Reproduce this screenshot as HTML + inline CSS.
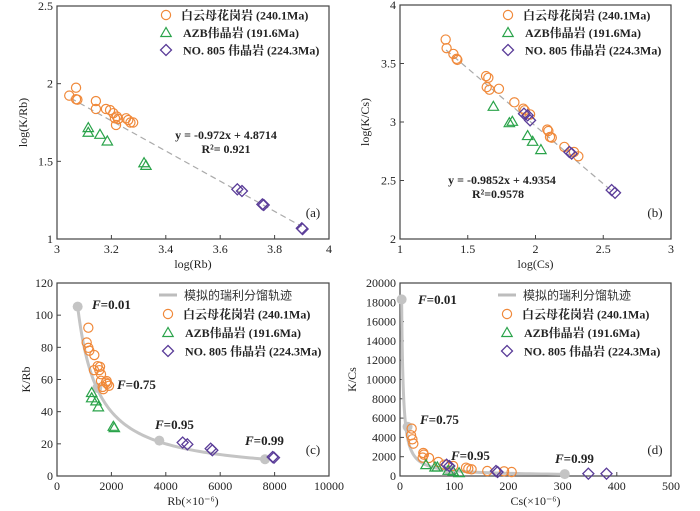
<!DOCTYPE html>
<html><head><meta charset="utf-8">
<style>
html,body{margin:0;padding:0;background:#fff;}
svg{display:block;}
text{font-family:"Liberation Serif","Noto Serif CJK SC",serif;fill:#222;}
.tk{font-size:12px;}
.lg{font-size:12px;font-weight:bold;}
.eq{font-size:12px;font-weight:bold;}
.fl{font-size:13px;font-weight:bold;}
</style></head>
<body>
<svg id="chart" width="700" height="511" viewBox="0 0 700 511" xmlns="http://www.w3.org/2000/svg"></svg>
<script>
// ---------- Panel (a) data: log(Rb) vs log(K/Rb)
const aOrangeX=[3.045,3.07,3.07,3.075,3.143,3.143,3.18,3.195,3.207,3.213,3.22,3.217,3.225,3.254,3.262,3.27,3.28];
const aOrangeY=[1.923,1.974,1.90,1.897,1.888,1.837,1.837,1.83,1.81,1.777,1.788,1.734,1.773,1.777,1.766,1.75,1.75];
const aGreenX=[3.115,3.115,3.158,3.185,3.32,3.327];
const aGreenY=[1.717,1.687,1.674,1.631,1.491,1.474];
const aPurpleX=[3.663,3.68,3.755,3.76,3.9,3.903];
const aPurpleY=[1.32,1.309,1.223,1.219,1.069,1.064];
const aFit=[-0.972,4.8714];
const aTicksX=[3,3.2,3.4,3.6,3.8,4];
const aTickLabelsX=["3","3.2","3.4","3.6","3.8","4"];
const aTicksY=[1,1.5,2,2.5];
const aTickLabelsY=["1","1.5","2","2.5"];
// ---------- Panel (b) data: log(Cs) vs log(K/Cs)
const bOrangeX=[1.337,1.344,1.394,1.418,1.423,1.635,1.652,1.64,1.66,1.73,1.844,1.91,1.92,1.96,2.087,2.095,2.107,2.12,2.213,2.284,2.316];
const bOrangeY=[3.705,3.631,3.582,3.54,3.531,3.392,3.378,3.298,3.276,3.284,3.168,3.114,3.1,3.065,2.935,2.923,2.872,2.866,2.787,2.744,2.707];
const bGreenX=[1.689,1.807,1.829,1.942,1.979,2.04];
const bGreenY=[3.134,2.994,3.006,2.884,2.835,2.764];
const bPurpleX=[1.915,1.942,1.96,2.25,2.267,2.562,2.587];
const bPurpleY=[3.071,3.057,3.014,2.744,2.73,2.418,2.395];
const bFit=[-0.9852,4.9354];
const bTicksX=[1,1.5,2,2.5,3];
const bTickLabelsX=["1","1.5","2","2.5","3"];
const bTicksY=[2,2.5,3,3.5,4];
const bTickLabelsY=["2","2.5","3","3.5","4"];
// ---------- Panel (c) data: Rb vs K/Rb
const cOrangeX=[1152,1091,1152,1189,1372,1360,1495,1581,1556,1618,1618,1801,1826,1912,1679,1703,1850];
const cOrangeY=[92.2,83,79.7,77.9,75.2,65.8,68.3,67.9,65.8,63.3,59.2,58.1,59,56.1,55.4,54,57.3];
const cGreenX=[1275,1275,1434,1520,2071,2108];
const cGreenY=[51.9,48.6,46.7,43,30.9,30.1];
const cPurpleX=[4620,4792,5650,5711,7929,7978];
const cPurpleY=[20.8,19.7,17,16,11.8,11.4];
const cFLabels=["0.01","0.75","0.95","0.99"];
const cFX=[760,1480,3762,7647];
const cFY=[105.3,54.8,22,10.4];
const cModelK=[80000]; // Rayleigh trajectory: K/Rb = K / Rb
const cCurveRange=[760,7647];
const cTicksX=[0,2000,4000,6000,8000,10000];
const cTickLabelsX=["0","2000","4000","6000","8000","10000"];
const cTicksY=[0,20,40,60,80,100,120];
const cTickLabelsY=["0","20","40","60","80","100","120"];
// ---------- Panel (d) data: Cs vs K/Cs
const dOrangeX=[21.5,20.3,22.8,24.6,43,44,53.5,41.8,70.7,81.8,121.8,126,132,161,192,206,98];
const dOrangeY=[4913,4221,3806,3356,2388,2214,1869,1903,1453,1176,865,761,692,519,484,415,1038];
const dGreenX=[48,64.6,68.9,89,98,109];
const dGreenY=[1176,934,934,588,484,346];
const dPurpleX=[86,91,177,180,347.5,381];
const dPurpleY=[1176,1038,519,415,242,242];
const dFLabels=["0.01","0.75","0.95","0.99"];
const dFX=[3,14,90,304];
const dFY=[18300,5100,610,200];
const dModelK=[55000];
const dCurveRange=[3,304];
const dTicksX=[0,100,200,300,400,500];
const dTickLabelsX=["0","100","200","300","400","500"];
const dTicksY=[0,2000,4000,6000,8000,10000,12000,14000,16000,18000,20000];
const dTickLabelsY=["0","2000","4000","6000","8000","10000","12000","14000","16000","18000","20000"];

const NS="http://www.w3.org/2000/svg";
const svg=document.getElementById('chart');
const OR="#f0893a",GR="#2aa34a",PU="#5a3c98";
function mk(tag,attrs,parent){const e=document.createElementNS(NS,tag);for(const k in attrs)e.setAttribute(k,attrs[k]);(parent||svg).appendChild(e);return e;}
function txt(s,attrs,parent){const e=mk('text',attrs,parent);e.textContent=s;return e;}

function marker(g,type,x,y,color){
  let e;
  if(type==='c'){e=mk('circle',{cx:x,cy:y,r:4.6,fill:'none',stroke:color,'stroke-width':1.2},g);}
  else if(type==='t'){e=mk('polygon',{points:`${x},${y-5} ${x-5.2},${y+4} ${x+5.2},${y+4}`,fill:'none',stroke:color,'stroke-width':1.2},g);}
  else {e=mk('polygon',{points:`${x},${y-5.5} ${x+5.5},${y} ${x},${y+5.5} ${x-5.5},${y}`,fill:'none',stroke:color,'stroke-width':1.3},g);}
  return e;
}

function panel(id,box,xd,yd,tx,txl,ty,tyl,xtitle,ytitle,ylabX,tag){
  const g=mk('g',{});
  
  
  const sx=v=>box.l+(v-xd[0])/(xd[1]-xd[0])*(box.r-box.l);
  const sy=v=>box.b-(v-yd[0])/(yd[1]-yd[0])*(box.b-box.t);
  const fr=mk('rect',{x:box.l,y:box.t,width:box.r-box.l,height:box.b-box.t,fill:'none',stroke:'#444','stroke-width':1.2},g);
  
  
  tx.forEach((v,i)=>{
    const X=sx(v);
    mk('line',{x1:X,y1:box.b,x2:X,y2:box.b-4,stroke:'#444','stroke-width':1},g);
    const t=txt(txl[i],{x:X,y:box.b+14,'text-anchor':'middle',class:'tk'},g);
    
    
  });
  ty.forEach((v,i)=>{
    const Y=sy(v);
    mk('line',{x1:box.l,y1:Y,x2:box.l+4,y2:Y,stroke:'#444','stroke-width':1},g);
    const t=txt(tyl[i],{x:box.l-4,y:Y+4,'text-anchor':'end',class:'tk'},g);
    
    
  });
  const xt=txt(xtitle,{x:(box.l+box.r)/2,y:box.b+29,'text-anchor':'middle',class:'tk'},g);
  
  
  const cy=(box.t+box.b)/2;
  const yt=txt(ytitle,{x:ylabX,y:cy,'text-anchor':'middle',class:'tk',transform:`rotate(-90 ${ylabX} ${cy})`},g);
  
  
  const pt=txt(tag,{x:box.r-16,y:box.b-22,'text-anchor':'middle',class:'tk',style:'font-size:13px'},g);
  
  
  return {g,sx,sy};
}

function series(P,xs,ys,type,color,name){
  const g=mk('g',{},P.g);
  
  
  xs.forEach((x,i)=>{
    const m=marker(g,type,P.sx(x),P.sy(ys[i]),color);
    
    
  });
}

function legend(P,x,y0,withLine){
  const g=mk('g',{},P.g);
  
  
  let y=y0;
  if(withLine){
    const l=mk('line',{x1:x-9,y1:y,x2:x+9,y2:y,stroke:'#bdbdbd','stroke-width':3},g);
    
    
    const t=txt('模拟的瑞利分馏轨迹',{x:x+16,y:y+4.5,class:'lg',style:'font-weight:normal;font-family:"Noto Sans CJK SC",sans-serif;fill:#333'},g);
    
    
    y+=19;
  }
  const items=[['c',OR,'白云母花岗岩 (240.1Ma)'],['t',GR,'AZB伟晶岩  (191.6Ma)'],['d',PU,'NO. 805 伟晶岩 (224.3Ma)']];
  items.forEach((it,i)=>{
    marker(g,it[0],x,y,it[1]);
    const t=txt(it[2],{x:x+15+(i>0?2:0),y:y+4.5,class:'lg','xml:space':'preserve'},g);
    
    
    y+= (withLine?18.5:17.5);
  });
}

function fitLine(P,fit,x0,x1,name){
  const l=mk('line',{x1:P.sx(x0),y1:P.sy(fit[0]*x0+fit[1]),x2:P.sx(x1),y2:P.sy(fit[0]*x1+fit[1]),stroke:'#aaa','stroke-width':1.2,'stroke-dasharray':'6,4'},P.g);
  
  
}

function rayleigh(P,K,range,fx,fy,fl,labelPos,name){
  let d='';
  const n=120;
  for(let i=0;i<=n;i++){
    const x=range[0]*Math.pow(range[1]/range[0],i/n);
    d+=(i?'L':'M')+P.sx(x).toFixed(2)+','+P.sy(K[0]/x).toFixed(2);
  }
  const p=mk('path',{d,fill:'none',stroke:'#c4c4c4','stroke-width':3},P.g);
  
  
  fx.forEach((x,i)=>{
    const c=mk('circle',{cx:P.sx(x),cy:P.sy(fy[i]),r:5,fill:'#c4c4c4'},P.g);
    
    
    const t=mk('text',{x:labelPos[i][0],y:labelPos[i][1],class:'fl'},P.g);
    
    
    const s=mk('tspan',{'font-style':'italic'},t);s.textContent='F';
    const s2=mk('tspan',{},t);s2.textContent='='+fl[i];
  });
}

// Panel a
const A=panel('a',{l:57,r:329,t:6,b:239},[3,4],[1,2.5],aTicksX,aTickLabelsX,aTicksY,aTickLabelsY,'log(Rb)','log(K/Rb)',27,'(a)');
fitLine(A,aFit,3.05,3.9,'trendline-a');
series(A,aOrangeX,aOrangeY,'c',OR,'series-muscovite-granite');
series(A,aGreenX,aGreenY,'t',GR,'series-azb-pegmatite');
series(A,aPurpleX,aPurpleY,'d',PU,'series-no805-pegmatite');
legend(A,166,15,false);
let e=txt('y = -0.972x + 4.8714',{x:226,y:139,'text-anchor':'middle',class:'eq'},A.g);

e=txt('R²= 0.921',{x:226,y:153,'text-anchor':'middle',class:'eq'},A.g);


// Panel b
const B=panel('b',{l:400,r:671,t:5,b:239},[1,3],[2,4],bTicksX,bTickLabelsX,bTicksY,bTickLabelsY,'log(Cs)','log(K/Cs)',369,'(b)');
fitLine(B,bFit,1.34,2.58,'trendline-b');
series(B,bOrangeX,bOrangeY,'c',OR,'series-muscovite-granite');
series(B,bGreenX,bGreenY,'t',GR,'series-azb-pegmatite');
series(B,bPurpleX,bPurpleY,'d',PU,'series-no805-pegmatite');
legend(B,508,15,false);
e=txt('y = -0.9852x + 4.9354',{x:502,y:184,'text-anchor':'middle',class:'eq'},B.g);

e=txt('R²=0.9578',{x:498,y:198,'text-anchor':'middle',class:'eq'},B.g);


// Panel c
const C=panel('c',{l:57,r:329,t:283,b:476},[0,10000],[0,120],cTicksX,cTickLabelsX,cTicksY,cTickLabelsY,'Rb(×10⁻⁶)','K/Rb',30,'(c)');
rayleigh(C,cModelK,cCurveRange,cFX,cFY,cFLabels,[[92,309],[117,389],[155,429],[245,445]],'rayleigh-curve-c');
series(C,cOrangeX,cOrangeY,'c',OR,'series-muscovite-granite');
series(C,cGreenX,cGreenY,'t',GR,'series-azb-pegmatite');
series(C,cPurpleX,cPurpleY,'d',PU,'series-no805-pegmatite');
legend(C,168,295,true);

// Panel d
const D=panel('d',{l:400,r:671,t:283,b:476},[0,500],[0,20000],dTicksX,dTickLabelsX,dTicksY,dTickLabelsY,'Cs(×10⁻⁶)','K/Cs',356,'(d)');
rayleigh(D,dModelK,dCurveRange,dFX,dFY,dFLabels,[[418,304],[420,424],[451,460],[555,463]],'rayleigh-curve-d');
series(D,dOrangeX,dOrangeY,'c',OR,'series-muscovite-granite');
series(D,dGreenX,dGreenY,'t',GR,'series-azb-pegmatite');
series(D,dPurpleX,dPurpleY,'d',PU,'series-no805-pegmatite');
legend(D,507,295,true);
</script>
</body></html>
